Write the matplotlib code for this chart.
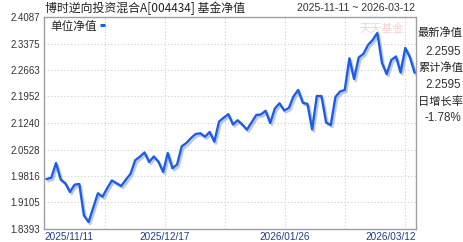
import matplotlib
matplotlib.use("Agg")
import matplotlib.pyplot as plt
import matplotlib.patheffects as pe

# fund NAV data (trading days 2025-11-11 .. 2026-03-12)
nav = [1.9736, 1.9771, 2.0166, 1.9723, 1.9621, 1.9387, 1.9583, 1.9602, 1.8756, 1.8581,
       1.8970, 1.9352, 1.9261, 1.9489, 1.9696, 1.9623, 1.9548, 1.9717, 1.9876, 2.0238,
       2.0332, 2.0448, 2.0193, 2.0340, 2.0201, 1.9924, 2.0434, 2.0023, 2.0125, 2.0614,
       2.0703, 2.0837, 2.0945, 2.0964, 2.0872, 2.0998, 2.0738, 2.1275, 2.1380, 2.1477,
       2.1200, 2.1313, 2.1200, 2.1060, 2.1254, 2.1455, 2.1468, 2.1568, 2.1240, 2.1630,
       2.1769, 2.1576, 2.1643, 2.1952, 2.2127, 2.1783, 2.1751, 2.1066, 2.1965, 2.1965,
       2.1254, 2.1186, 2.1939, 2.2086, 2.2127, 2.2978, 2.2422, 2.3000, 2.3094, 2.3335,
       2.3470, 2.3658, 2.2852, 2.2551, 2.2932, 2.3026, 2.2597, 2.3255, 2.3004, 2.2595]
y_ticks = [1.8393, 1.9105, 1.9816, 2.0528, 2.1240, 2.1952, 2.2663, 2.3375, 2.4087]
x_labels = ["2025/11/11", "2025/12/17", "2026/01/26", "2026/03/12"]
title = "博时逆向投资混合A[004434] 基金净值"
date_range = "2025-11-11 ~ 2026-03-12"
side_labels = ["最新净值", "2.2595", "累计净值", "2.2595", "日增长率", "-1.78%"]

CJK = ["Noto Sans CJK SC", "DejaVu Sans"]
NUM = ["Liberation Sans", "DejaVu Sans"]

fig = plt.figure(figsize=(4.63, 2.42), dpi=100)
ax = fig.add_axes([44/463, 13/242, 372/463, 212/242])

x = list(range(len(nav)))
ax.plot(x, nav, color="#1c5ce6", lw=1.7, solid_joinstyle="round",
        path_effects=[pe.SimpleLineShadow(offset=(1.2, -1.5), shadow_color="#8fa6d6", alpha=0.6),
                      pe.Normal()])

ax.set_xlim(-0.58, 79.3)
ax.set_ylim(y_ticks[0], y_ticks[-1])
ax.set_yticks(y_ticks)
ax.set_yticklabels([f"{v:.4f}" for v in y_ticks], family=NUM, fontsize=7, color="#333333")
ax.set_xticks([])
ax.tick_params(axis="y", length=0, pad=3)
ax.yaxis.grid(True, color="#cfcfcf", lw=0.8, ls=(0, (1, 2)))

# vertical grid lines every 60 px
for k in range(1, 7):
    fx = (1 + 60 * k) / 372
    ax.plot([fx, fx], [0, 1], transform=ax.transAxes, color="#cfcfcf", lw=0.8,
            ls=(0, (1, 2)), zorder=0)

for s in ax.spines.values():
    s.set_color("#a0a0a0")
    s.set_linewidth(1)

# x date labels
lab_pos = [(0.0, "left"), (121/372, "center"), (241/372, "center"), (1.0, "right")]
for (fx, ha), t in zip(lab_pos, x_labels):
    ax.text(fx, -0.015, t, transform=ax.transAxes, ha=ha, va="top",
            family=NUM, fontsize=7.2, color="#1f3c88")

# title row
fig.text(45/463, 1 - 8/242, title, family=CJK, fontsize=8.6, color="#222222", va="center")
fig.text(415/463, 1 - 8/242, date_range, family=NUM, fontsize=7.6, color="#333333",
         va="center", ha="right")

# legend
ax.text(6/372, 1 - 9/212, "单位净值", transform=ax.transAxes, family=CJK, fontsize=8.4,
        color="#222222", va="center")
ax.plot([56/372, 61/372], [1 - 8/212, 1 - 8/212], transform=ax.transAxes,
        color="#1c5ce6", lw=2.2, solid_capstyle="butt")

# watermark
ax.text(338/372, 1 - 12/212, "天天基金", transform=ax.transAxes, family=CJK, fontsize=8,
        color="#f6d0d0", va="center", ha="center", style="italic", zorder=0)

# right info panel
ys = [33, 52, 68, 85, 102, 118]
for i, (t, yy) in enumerate(zip(side_labels, ys)):
    if i % 2 == 0:
        fig.text(463/463, 1 - yy/242, t, family=CJK, fontsize=8.1, color="#222222",
                 ha="right", va="center")
    else:
        fig.text(461/463, 1 - yy/242, t, family=NUM, fontsize=8.4, color="#333333",
                 ha="right", va="center")

fig.savefig("out.png", dpi=100, facecolor="white")
